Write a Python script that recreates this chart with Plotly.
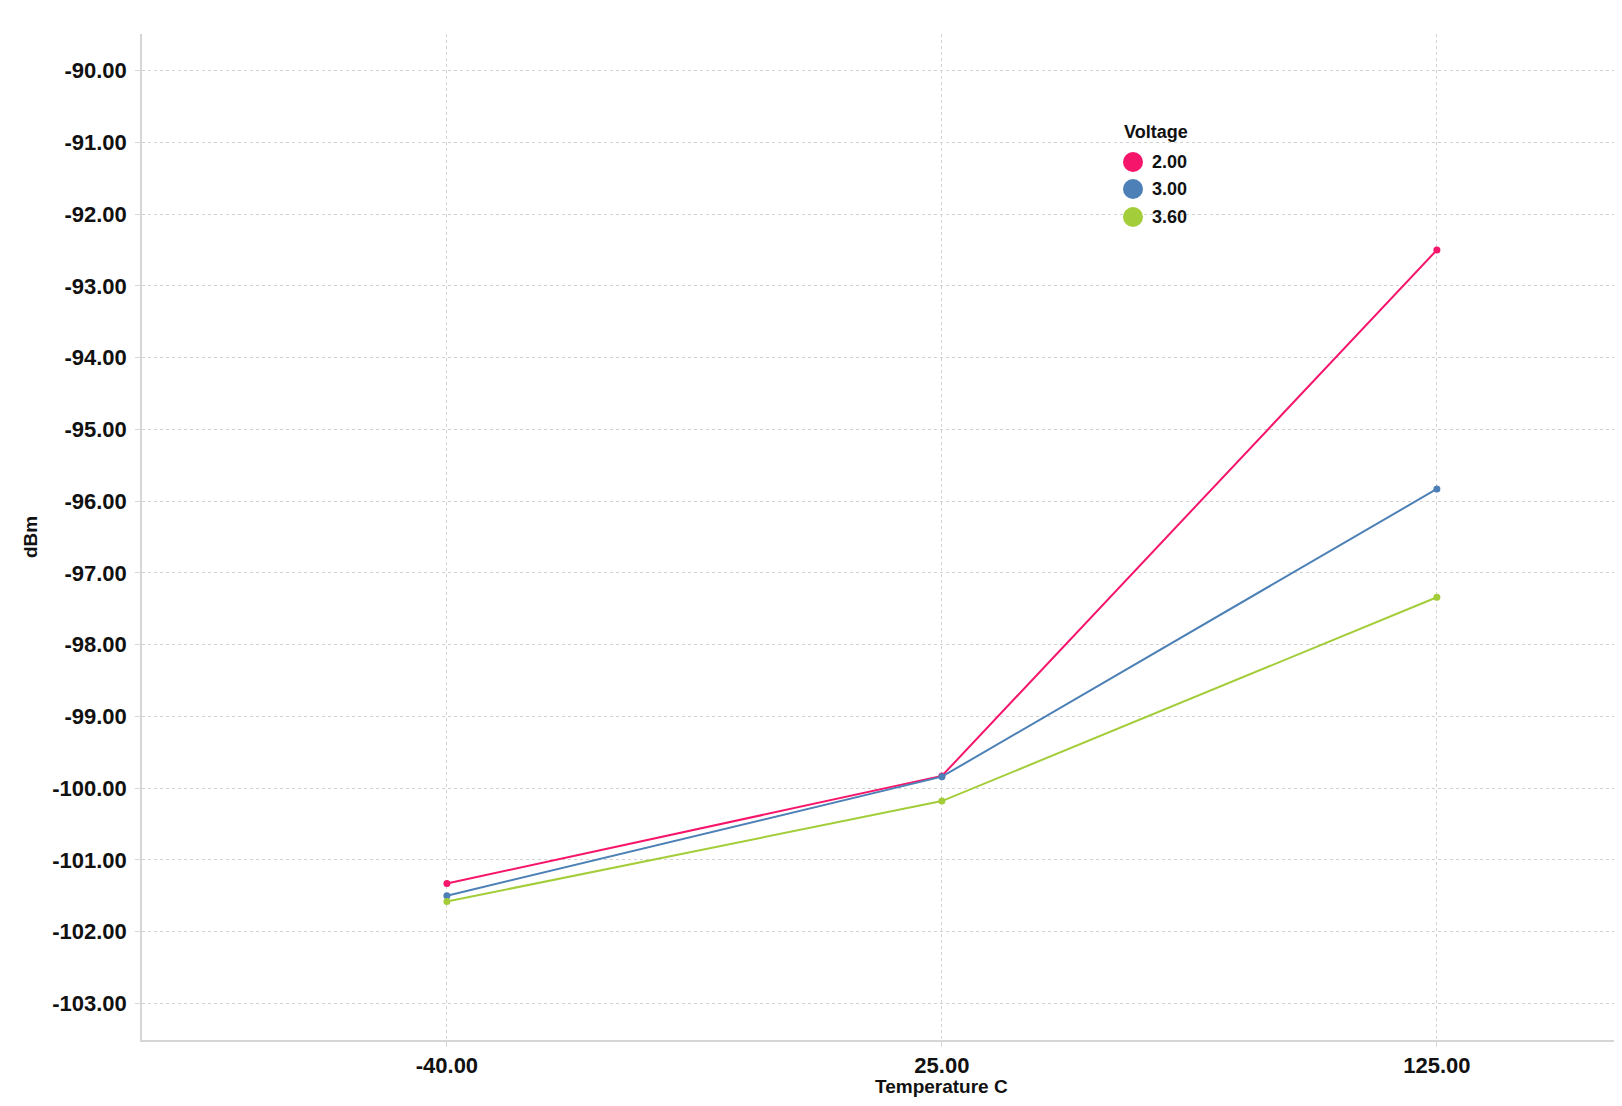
import plotly.graph_objects as go

temperature = ["-40.00", "25.00", "125.00"]
voltages = ["2.00", "3.00", "3.60"]
dbm_2v00 = [-101.33, -99.83, -92.50]
dbm_3v00 = [-101.50, -99.84, -95.83]
dbm_3v60 = [-101.58, -100.18, -97.34]
colors = ["#F5166B", "#4C80B6", "#A3CD39"]
y_ticks = [-90, -91, -92, -93, -94, -95, -96, -97, -98, -99, -100, -101, -102, -103]

series = [dbm_2v00, dbm_3v00, dbm_3v60]

FONT = "Arial, Liberation Sans, sans-serif"
TXT = "#111111"

fig = go.Figure()
for name, vals, col in zip(voltages, series, colors):
    fig.add_trace(go.Scatter(
        x=temperature, y=vals, mode="lines+markers", name=name,
        line=dict(color=col, width=2), marker=dict(color=col, size=7),
        showlegend=False,
    ))

axis_common = dict(
    showgrid=True, gridcolor="#d2d2d2", griddash="dot", gridwidth=1,
    showline=True, linecolor="#d6d6d6", linewidth=1.5,
    ticks="outside", ticklen=5, tickcolor="#d6d6d6",
    tickfont=dict(family=FONT, size=22, color=TXT, weight="bold"),
    zeroline=False,
)

# figure is placed at (8, 8) in the page by the default body margin
W = 1606
plot_w_full = 1480  # plot area width in the original (runs to the page edge)
fig.update_layout(
    width=W, height=1090,
    margin=dict(l=134, r=0, t=26, b=58),
    plot_bgcolor="white", paper_bgcolor="white",
    showlegend=False,
    xaxis=dict(**axis_common, type="category",
               range=[-0.616, -0.616 + (2.374 + 0.616) * (W - 134) / plot_w_full]),
    yaxis=dict(
        **axis_common, range=[-103.51, -89.49],
        tickvals=y_ticks, ticktext=[f"{v:.2f}" for v in y_ticks],
        ticklabelstandoff=4,
        title=dict(text="dBm", standoff=10,
                   font=dict(family=FONT, size=19, color=TXT, weight="bold")),
    ),
)

# x-axis title centred under the middle category, as in the original
fig.add_annotation(xref="x", yref="paper", x=temperature.index("25.00"), y=-0.0467,
                   xanchor="center", yanchor="middle", showarrow=False,
                   text="Temperature C",
                   font=dict(family=FONT, size=19, color=TXT, weight="bold"))

# custom legend (large round swatches); positions given in page pixels of the original
def px_x(px):
    return (px - 142) / (W - 134)

def px_y(py):
    return (1040 - py) / 1006

fig.add_shape(type="rect", xref="paper", yref="paper", layer="between",
              x0=px_x(1115), x1=px_x(1205), y0=px_y(232), y1=px_y(115),
              fillcolor="white", line=dict(width=0))
fig.add_annotation(xref="paper", yref="paper", x=px_x(1122), y=px_y(132),
                   xanchor="left", yanchor="middle", showarrow=False,
                   text="Voltage", font=dict(family=FONT, size=18, color=TXT, weight="bold"))
legend_py = [162, 189, 217]
for name, col, py in zip(voltages, colors, legend_py):
    fig.add_shape(type="circle", xref="paper", yref="paper",
                  xsizemode="pixel", ysizemode="pixel",
                  xanchor=px_x(1133), yanchor=px_y(py), x0=-10, x1=10, y0=-10, y1=10,
                  fillcolor=col, line=dict(width=0), layer="above")
    fig.add_annotation(xref="paper", yref="paper", x=px_x(1150), y=px_y(py),
                       xanchor="left", yanchor="middle", showarrow=False,
                       text=name, font=dict(family=FONT, size=18, color=TXT, weight="bold"))

fig.write_html("out.html")
